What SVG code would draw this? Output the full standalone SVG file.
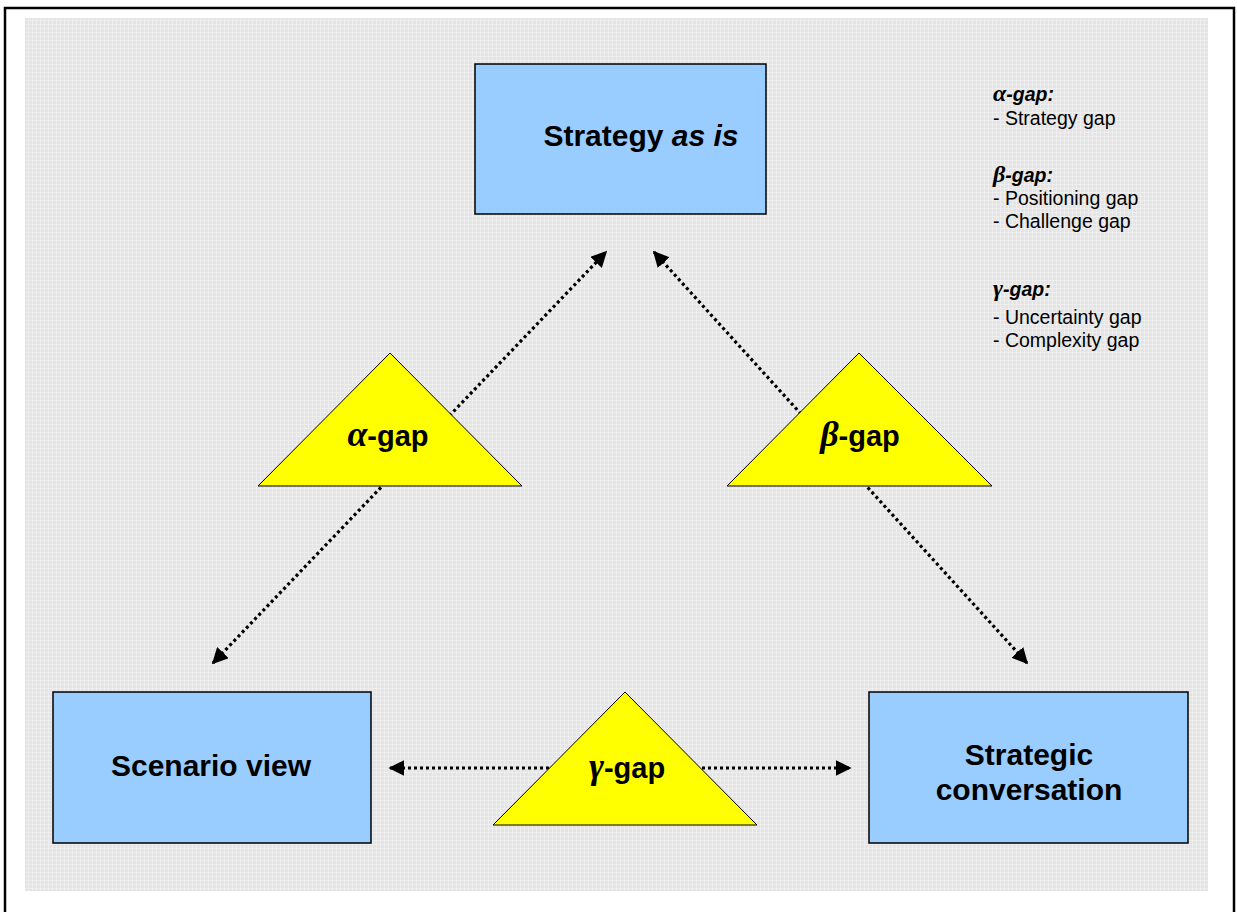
<svg xmlns="http://www.w3.org/2000/svg" width="1237" height="912" viewBox="0 0 1237 912">
<defs>
<pattern id="grid" width="4" height="4" patternUnits="userSpaceOnUse">
<rect width="4" height="4" fill="#e4e4e4"/>
<path d="M0 0.5H4M0.5 0V4" stroke="#eeeeee" stroke-width="1"/>
</pattern>
<marker id="ah" viewBox="0 0 10 10" refX="9" refY="5" markerWidth="5" markerHeight="5" orient="auto-start-reverse" markerUnits="strokeWidth">
<path d="M0 0L10 5L0 10z" fill="#000"/>
</marker>
</defs>
<style>
.box{fill:#99ccff;stroke:#000;stroke-width:1.5}
.tri{fill:#ffff00;stroke:#000;stroke-width:1}
.lbl{font-family:"Liberation Sans",Arial,sans-serif;font-weight:bold;font-size:30px;fill:#000;text-anchor:middle}
.gap{font-family:"Liberation Sans",Arial,sans-serif;font-weight:bold;font-size:29px;fill:#000;text-anchor:middle}
.greek{font-family:"Liberation Serif","Times New Roman",serif;font-style:italic;font-weight:bold}
.leg{font-family:"Liberation Sans",Arial,sans-serif;font-size:19.5px;fill:#000}
.legh{font-weight:bold;font-style:italic}
.dot{fill:none;stroke:#000;stroke-width:3.2;stroke-dasharray:3 3}
</style>
<rect x="0" y="0" width="1237" height="912" fill="#fff"/>
<rect x="5" y="8" width="1229" height="910" fill="#fff" stroke="#000" stroke-width="2.5"/>
<rect x="25" y="18" width="1183" height="873" fill="url(#grid)"/>

<g id="connectors">
<line class="dot" x1="213" y1="663" x2="606" y2="252" marker-start="url(#ah)" marker-end="url(#ah)"/>
<line class="dot" x1="654" y1="252" x2="1027" y2="663" marker-start="url(#ah)" marker-end="url(#ah)"/>
<line class="dot" x1="390" y1="768" x2="850" y2="768" marker-start="url(#ah)" marker-end="url(#ah)"/>
</g>

<g id="strategy">
<rect class="box" x="475" y="64" width="291" height="150"/>
<text class="lbl" x="641" y="146">Strategy <tspan font-style="italic">as is</tspan></text>
</g>
<g id="scenario">
<rect class="box" x="53" y="692" width="318" height="151"/>
<text class="lbl" x="211" y="776">Scenario view</text>
</g>
<g id="conversation">
<rect class="box" x="869" y="692" width="319" height="151"/>
<text class="lbl" x="1029" y="765">Strategic</text>
<text class="lbl" x="1029" y="800">conversation</text>
</g>

<g id="alpha">
<polygon class="tri" points="390,353 522,486 258,486"/>
<text class="gap" x="388" y="446"><tspan class="greek" font-size="36px">α</tspan>-gap</text>
</g>
<g id="beta">
<polygon class="tri" points="859,353 992,486 727,486"/>
<text class="gap" x="860" y="446"><tspan class="greek" font-size="36px">β</tspan>-gap</text>
</g>
<g id="gamma">
<polygon class="tri" points="625,692 757,825 493,825"/>
<text class="gap" x="627" y="778"><tspan class="greek" font-size="36px">γ</tspan>-gap</text>
</g>

<g id="legend" class="leg">
<text x="993" y="101" class="legh"><tspan class="greek" font-size="24px">α</tspan>-gap:</text>
<text x="993" y="125">- Strategy gap</text>
<text x="993" y="182" class="legh"><tspan class="greek" font-size="24px">β</tspan>-gap:</text>
<text x="993" y="205">- Positioning gap</text>
<text x="993" y="228">- Challenge gap</text>
<text x="993" y="296" class="legh"><tspan class="greek" font-size="24px">γ</tspan>-gap:</text>
<text x="993" y="324">- Uncertainty gap</text>
<text x="993" y="347">- Complexity gap</text>
</g>
</svg>
